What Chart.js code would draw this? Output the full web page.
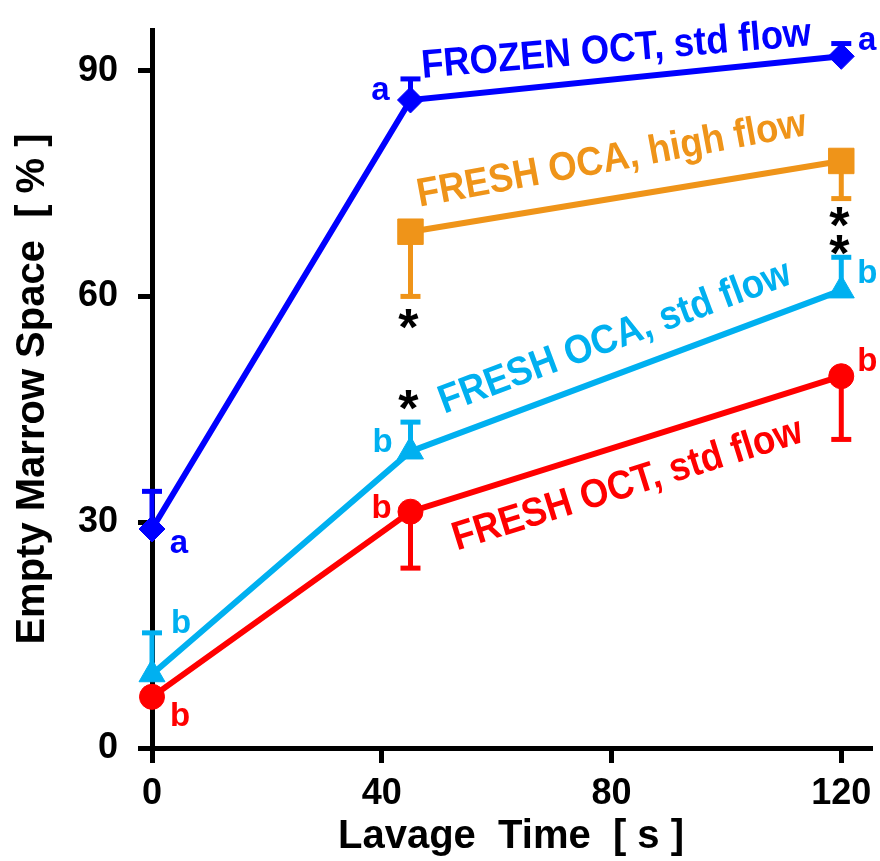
<!DOCTYPE html>
<html><head><meta charset="utf-8">
<script src="https://cdn.jsdelivr.net/npm/chart.js@4.4.1/dist/chart.umd.min.js"></script>
<style>html,body{margin:0;padding:0;background:#fff;} canvas{display:block;}</style>
</head><body>
<canvas id="c" width="880" height="861"></canvas>
<script>
// ---------- DATA ----------
const times = [0, 45, 120];
const xTickValues = [0, 40, 80, 120];
const yTickValues = [0, 30, 60, 90];
const xTitle = 'Lavage  Time  [ s ]';
const yTitle = 'Empty Marrow Space  [ % ]';
const seriesNames = ['FROZEN OCT, std flow', 'FRESH OCA, high flow', 'FRESH OCA, std flow', 'FRESH OCT, std flow'];

const frozenOct      = [29.1, 86.1, 91.9];
const frozenOctErr   = [5.0, 2.8, 1.7];
const freshOcaHigh    = [null, 68.6, 78.0];
const freshOcaHighErr = [null, 8.6, 5.0];
const freshOcaStd     = [9.8, 39.4, 60.8];
const freshOcaStdErr  = [5.5, 3.9, 4.4];
const freshOct        = [6.8, 31.4, 49.4];
const freshOctErr     = [null, 7.5, 8.4];

const frozenOctLetters    = ['a', 'a', 'a'];
const freshOcaHighLetters = [null, null, null];
const freshOcaStdLetters  = ['b', 'b', 'b'];
const freshOctLetters     = ['b', 'b', 'b'];

const freshOcaHighStars = [null, '*', '**'];
const freshOcaStdStars  = [null, '*', null];

// ---------- STYLE ----------
const FONT = "'Liberation Sans', Arial, Helvetica, sans-serif";
const series = [
  { name: seriesNames[0], values: frozenOct, err: frozenOctErr, errDir: 1, letters: frozenOctLetters, stars: [null,null,null],
    color: '#0000FF', point: 'rectRot', radius: 13,
    letterOffsets: [[27, 15], [-30, -9], [26, -15]], label: { x: 81.0, y: 91.2, angle: -4.8 } },
  { name: seriesNames[1], values: freshOcaHigh, err: freshOcaHighErr, errDir: -1, letters: freshOcaHighLetters, stars: freshOcaHighStars,
    color: '#EF9419', point: 'rect', radius: 18,
    letterOffsets: [[0,0],[0,0],[0,0]], starOffsets: [0, 23, 18], label: { x: 80.4, y: 76.7, angle: -10.5 } },
  { name: seriesNames[2], values: freshOcaStd, err: freshOcaStdErr, errDir: 1, letters: freshOcaStdLetters, stars: freshOcaStdStars,
    color: '#00B0F0', point: 'triangle', radius: 15,
    letterOffsets: [[29, -53], [-28, -11], [26, -19]], starOffsets: [0, -22, 0], label: { x: 81.3, y: 53.1, angle: -20.5 } },
  { name: seriesNames[3], values: freshOct, err: freshOctErr, errDir: -1, letters: freshOctLetters, stars: [null,null,null],
    color: '#FF0000', point: 'circle', radius: 12.5,
    letterOffsets: [[28, 17], [-29, -6], [26, -17]], label: { x: 83.4, y: 33.5, angle: -17.4 } },
];

function drawCentered(ctx, text, cx, cy) {
  ctx.textAlign = 'center';
  ctx.textBaseline = 'alphabetic';
  const m = ctx.measureText(text);
  ctx.fillText(text, cx, cy + (m.actualBoundingBoxAscent - m.actualBoundingBoxDescent) / 2);
}

const annotate = {
  id: 'annotate',
  beforeDatasetsDraw(chart) {
    const { ctx, scales: { x, y } } = chart;
    ctx.save();
    series.forEach(s => {
      ctx.strokeStyle = s.color;
      ctx.lineWidth = 5;
      ctx.lineCap = 'butt';
      times.forEach((t, i) => {
        if (s.values[i] == null || s.err[i] == null) return;
        const px = x.getPixelForValue(t);
        const py = y.getPixelForValue(s.values[i]);
        const pe = y.getPixelForValue(s.values[i] + s.errDir * s.err[i]);
        ctx.beginPath(); ctx.moveTo(px, py); ctx.lineTo(px, pe); ctx.stroke();
        ctx.beginPath(); ctx.moveTo(px - 10, pe); ctx.lineTo(px + 10, pe); ctx.stroke();
      });
    });
    ctx.restore();
  },
  afterDatasetsDraw(chart) {
    const { ctx, scales: { x, y } } = chart;
    ctx.save();
    series.forEach(s => {
      ctx.fillStyle = s.color;
      ctx.font = `bold 33px ${FONT}`;
      times.forEach((t, i) => {
        if (!s.letters[i] || s.values[i] == null) return;
        const px = x.getPixelForValue(t), py = y.getPixelForValue(s.values[i]);
        drawCentered(ctx, s.letters[i], px + s.letterOffsets[i][0], py + s.letterOffsets[i][1]);
      });
      ctx.fillStyle = '#000';
      ctx.font = `bold 52px ${FONT}`;
      times.forEach((t, i) => {
        const st = s.stars[i];
        if (!st || s.values[i] == null) return;
        const px = x.getPixelForValue(t);
        const pe = y.getPixelForValue(s.values[i] + s.errDir * s.err[i]);
        for (let k = 0; k < st.length; k++) {
          drawCentered(ctx, '*', px - 2, pe + s.starOffsets[i] + (s.errDir < 0 ? 1 : -1) * k * 28);
        }
      });
      ctx.fillStyle = s.color;
      ctx.font = `bold 38px ${FONT}`;
      ctx.save();
      ctx.translate(x.getPixelForValue(s.label.x), y.getPixelForValue(s.label.y));
      ctx.rotate(s.label.angle * Math.PI / 180);
      ctx.scale(0.96, 1.06);
      ctx.textAlign = 'center';
      ctx.textBaseline = 'alphabetic';
      ctx.fillText(s.name, 0, 0);
      ctx.restore();
    });
    ctx.restore();
  }
};

const datasets = series.map(s => ({
  label: s.name,
  data: times.map((t, i) => ({ x: t, y: s.values[i] })).filter(p => p.y != null),
  borderColor: s.color,
  backgroundColor: s.color,
  borderWidth: 6,
  pointStyle: s.point,
  pointRadius: s.radius,
  pointHoverRadius: s.radius,
  pointBackgroundColor: s.color,
  pointBorderColor: s.color,
  pointBorderWidth: 1,
  tension: 0,
  clip: false,
}));

new Chart(document.getElementById('c'), {
  type: 'line',
  data: { datasets },
  options: {
    responsive: false,
    animation: false,
    events: [],
    layout: { autoPadding: false, padding: { top: 30, right: 10, left: 0, bottom: 0 } },
    plugins: { legend: { display: false }, tooltip: { enabled: false } },
    scales: {
      x: {
        type: 'linear', min: 0, max: 125,
        afterBuildTicks(s) { s.ticks = xTickValues.map(v => ({ value: v })); },
        afterFit(s) { s.height = 113; s.paddingLeft = 0; s.paddingRight = 0; },
        border: { display: true, color: '#000', width: 5 },
        grid: { display: true, drawOnChartArea: false, drawTicks: true, tickLength: 15, lineWidth: 5, color: '#000' },
        ticks: { color: '#000', padding: 9, maxRotation: 0, font: { family: FONT, size: 36, weight: 'bold' } },
        title: { display: true, text: xTitle, color: '#000', padding: { top: 0, bottom: 0 }, font: { family: FONT, size: 40, weight: 'bold' } }
      },
      y: {
        type: 'linear', min: 0, max: 95.4,
        afterBuildTicks(s) { s.ticks = yTickValues.map(v => ({ value: v })); },
        afterFit(s) { s.width = 152; s.paddingTop = 0; s.paddingBottom = 0; },
        border: { display: true, color: '#000', width: 5 },
        grid: { display: true, drawOnChartArea: false, drawTicks: true, tickLength: 14, lineWidth: 5, color: '#000' },
        ticks: { color: '#000', padding: 20, font: { family: FONT, size: 36, weight: 'bold' } },
        title: { display: true, text: yTitle, color: '#000', padding: { top: 9, bottom: 0 }, font: { family: FONT, size: 40, weight: 'bold' } }
      }
    }
  },
  plugins: [annotate]
});
</script>
</body></html>
